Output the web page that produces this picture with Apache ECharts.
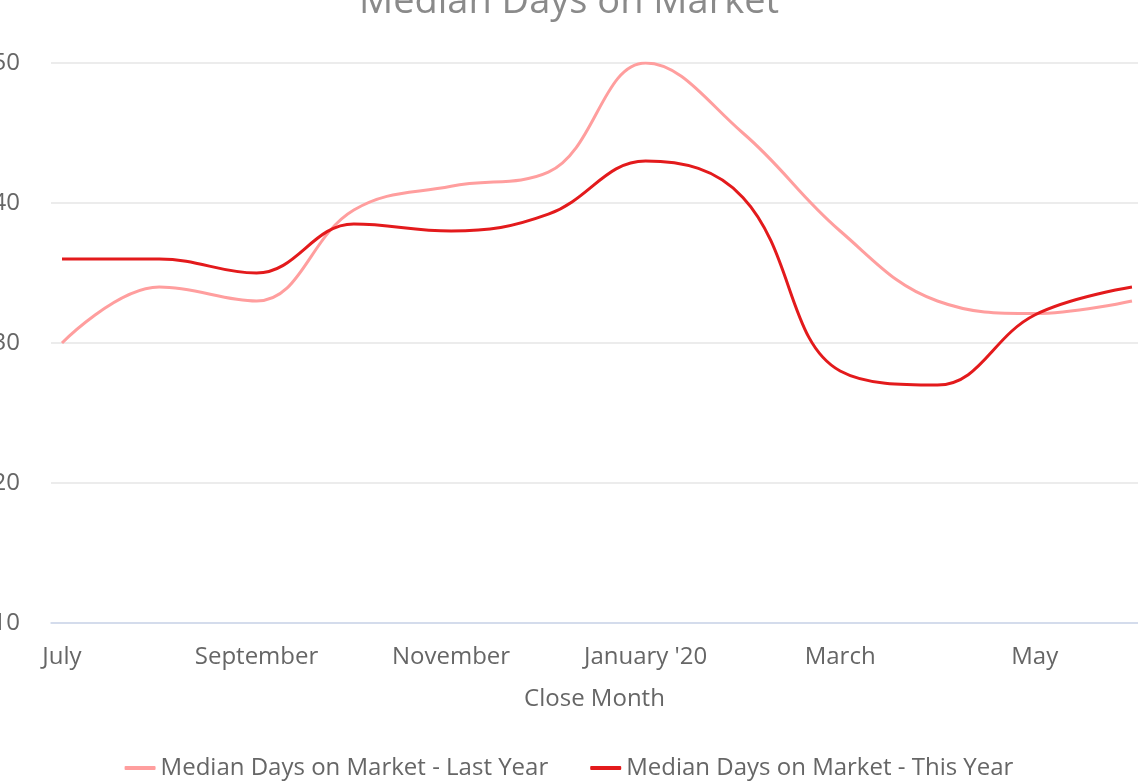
<!DOCTYPE html>
<html lang="en">
<head>
    <meta charset="UTF-8">
    <title>Median Days on Market</title>
    <style>
        html, body { margin: 0; padding: 0; background: #fff; }
    </style>
</head>
<body>
<div id="main" style="width: 1138px;height:782px;"></div>

<script src="https://cdn.jsdelivr.net/npm/echarts@6/dist/echarts.min.js"></script>

<script type="text/javascript">
    // 月份 (x 轴类别)
    var months = ['July', 'August', 'September', 'October', 'November', 'December',
        "January '20", 'February', 'March', 'April', 'May', 'June'];
    // 显示标签的月份位置
    var labelMonths = [0, 2, 4, 6, 8, 10];

    var lastYear = [30, 34, 33, 39.5, 41.2, 42.2, 50, 45, 38, 33, 32.1, 33];
    var thisYear = [36, 36, 35, 38.5, 38, 39.2, 43, 40.4, 28, 27, 32, 34];

    var yTicks = [10, 20, 30, 40, 50];

    function toPoints(values) {
        var pts = [];
        for (var i = 0; i < values.length; i++) {
            pts.push([i, values[i]]);
        }
        return pts;
    }

    var myChart = echarts.init(document.getElementById('main'));

    var option = {
        backgroundColor: '#ffffff',
        animation: false,
        textStyle: { fontFamily: 'Open Sans' },
        title: {
            text: 'Median Days on Market',
            left: 'center',
            top: -22,
            textStyle: { fontSize: 38, fontWeight: 'normal', color: '#8a8a8a', fontFamily: 'Open Sans' }
        },
        legend: {
            bottom: -3,
            left: 'center',
            itemWidth: 31,
            itemHeight: 4,
            itemGap: 42,
            icon: 'roundRect',
            textStyle: { fontSize: 24, color: '#666666', fontFamily: 'Open Sans' },
            data: ['Median Days on Market - Last Year', 'Median Days on Market - This Year']
        },
        grid: {
            left: 51,
            right: 0,
            top: 63,
            bottom: 159,
            containLabel: false,
            outerBoundsMode: 'none'
        },
        xAxis: {
            type: 'value',
            min: -0.113,
            max: 11.062,
            name: 'Close Month',
            nameLocation: 'middle',
            nameGap: 64,
            nameTextStyle: { fontSize: 24, color: '#666666' },
            axisLine: { show: true, lineStyle: { color: '#ccd6eb', width: 1.5 } },
            axisTick: { show: false },
            splitLine: { show: false },
            axisLabel: {
                customValues: labelMonths,
                fontSize: 24,
                color: '#666666',
                margin: 22,
                formatter: function (v) { return months[Math.round(v)]; }
            }
        },
        yAxis: {
            type: 'value',
            min: yTicks[0],
            max: yTicks[yTicks.length - 1],
            interval: 10,
            axisLine: { show: false },
            axisTick: { show: false },
            axisLabel: { fontSize: 24, color: '#666666', margin: 31 },
            splitLine: { lineStyle: { color: '#e6e6e6', width: 1.5 } }
        },
        series: [
            {
                name: 'Median Days on Market - Last Year',
                type: 'line',
                smooth: 0.4,
                showSymbol: false,
                symbol: 'none',
                lineStyle: { width: 3, color: '#ff9e9e' },
                itemStyle: { color: '#ff9e9e' },
                data: toPoints(lastYear)
            },
            {
                name: 'Median Days on Market - This Year',
                type: 'line',
                smooth: 0.4,
                showSymbol: false,
                symbol: 'none',
                lineStyle: { width: 3, color: '#e31a1c' },
                itemStyle: { color: '#e31a1c' },
                data: toPoints(thisYear)
            }
        ]
    };
    myChart.setOption(option);
</script>
</body>
</html>
